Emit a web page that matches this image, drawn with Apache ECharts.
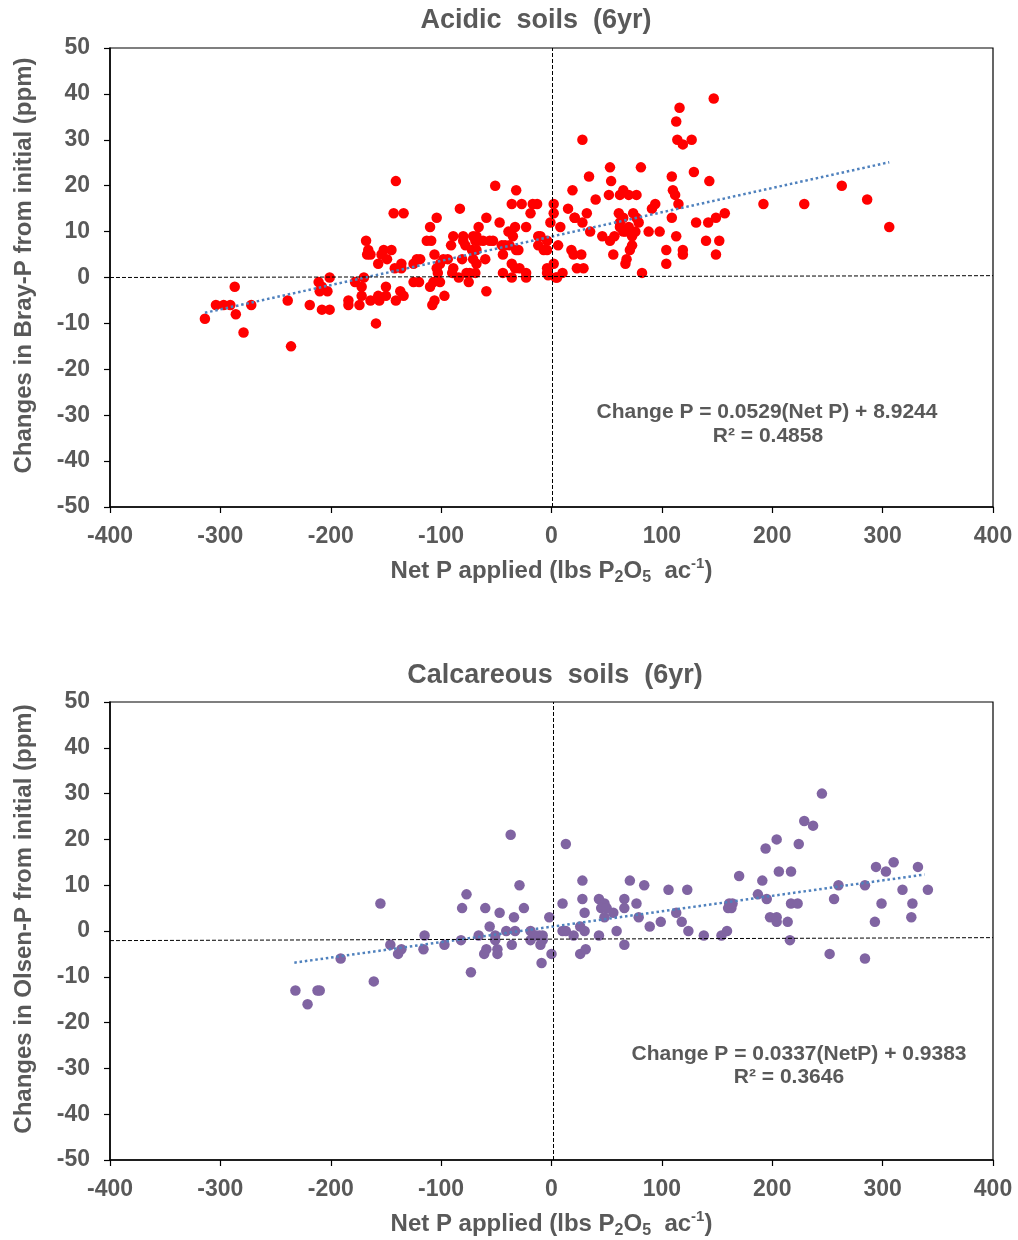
<!DOCTYPE html>
<html>
<head>
<meta charset="utf-8">
<title>Soil P change vs net P applied</title>
<script src="https://cdn.jsdelivr.net/npm/echarts@6/dist/echarts.min.js"></script>
<style>
  html, body { margin: 0; padding: 0; background: #fff; }
  #chart { width: 1018px; height: 1240px; }
</style>
</head>
<body>
<div id="chart"></div>
<script>
// Net P applied (lbs P2O5/ac) vs change in Bray-P (ppm), acidic soils
const acidicPoints = [
  [-314,-9],[-304,-6],[-297,-6],[-291,-6],[-287,-2],[-286,-8],[-279,-12],[-272,-6],[-239,-5],[-236,-15],
  [-219,-6],[-211,-1],[-208,-2],[-210,-3],[-203,-3],[-208,-7],[-201,-7],[-201,0],[-184,-5],[-184,-6],
  [-178,-1],[-174,-6],[-172,-2],[-172,-4],[-170,0],[-168,8],[-167,5],[-166,6],[-164,5],[-164,-5],
  [-156,-5],[-157,-4],[-150,-4],[-159,-10],[-157,3],[-154,5],[-152,6],[-145,6],[-149,4],[-150,-2],
  [-141,21],[-143,14],[-134,14],[-141,-5],[-142,2],[-136,3],[-136,2],[-137,-3],[-134,-4],[-125,-1],
  [-120,-1],[-125,3],[-122,4],[-119,4],[-113,8],[-109,8],[-110,11],[-104,13],[-106,5],[-110,-2],
  [-107,-1],[-108,-6],[-106,-5],[-101,-1],[-97,-4],[-104,2],[-101,3],[-98,4],[-103,1],
  [-94,4],[-89,2],[-90,1],[-89,9],[-91,7],[-83,15],[-84,0],[-75,-1],[-80,9],[-78,7],
  [-80,8],[-81,4],[-77,1],[-71,9],[-68,9],[-69,8],[-66,8],[-62,8],[-66,11],[-59,13],
  [-72,6],[-68,6],[-71,4],[-68,3],[-74,1],[-69,1],[-60,4],[-59,-3],[-56,8],[-53,8],
  [-51,20],[-47,12],[-45,7],[-42,7],[-44,5],[-44,1],[-39,10],[-35,9],[-33,11],[-38,7],
  [-32,6],[-30,6],[-36,3],[-33,2],[-29,2],[-36,0],[-23,1],[-23,0],[-36,16],[-27,16],
  [-32,19],[-23,11],[-19,14],[-17,16],[-13,16],[-12,9],[-12,7],[-7,6],[-4,6],[-4,2],
  [-3,0.5],[-1,12],[2,16],[2,14],[5,0],[8,11],[6,7],[10,1],[15,15],[19,19],
  [21,13],[18,6],[20,5],[23,2],[-10,9],[-4,8],[-4,1],[2,3],[4,0],[27,5],[29,2],
  [147,39],[116,37],[113,34],[114,30],[119,29],[127,30],[28,30],[53,24],[81,24],[34,22],
  [54,21],[109,22],[129,23],[143,21],[40,17],[52,18],[62,18],[65,19],[70,18],[77,18],
  [110,19],[112,18],[94,16],[91,15],[115,16],[192,16],[32,14],[21,13],[28,12],
  [61,14],[62,12],[65,13],[74,14],[77,13],[79,12],[62,11],[67,10],[71,10],[76,10],
  [73,9],[65,10],[70,11],[35,10],[46,9],[53,8],[57,9],[73,7],[71,6],[68,4],
  [67,3],[56,5],[88,10],[98,10],[109,13],[113,9],[131,12],[142,12],[149,13],[157,14],
  [140,8],[152,8],[149,5],[104,6],[104,3],[119,6],[119,5],[82,1],
  [229,16],[263,20],[286,17],[306,11]
];

// Net P applied (lbs P2O5/ac) vs change in Olsen-P (ppm), calcareous soils
const calcareousPoints = [
  [-232,-13],[-221,-16],[-212,-13],[-210,-13],[-191,-6],[-161,-11],[-155,6],[-146,-3],[-139,-5],[-136,-4],
  [-116,-4],[-115,-1],[-97,-3],[-82,-2],[-81,5],[-77,8],[-73,-9],[-66,-1],[-60,5],[-56,1],
  [-61,-5],[-59,-4],[-49,-5],[-49,-4],[-47,4],[-51,-1],[-51,-2],[-41,0],[-37,21],[-36,-3],
  [-34,3],[-33,0],[-29,10],[-25,5],[-19,0],[-19,-2],[-14,-1],[-11,-1],[-8,-1],[-10,-3],
  [-9,-7],[-8,-2],[-2,3],[0,-5],[10,6],[13,19],[10,0],[13,0],[20,-1],[26,-5],
  [31,-4],[26,1],[30,0],[28,7],[28,11],[30,4],[43,7],[48,6],[45,5],[50,5],
  [48,3],[56,4],[43,-1],[59,0],[66,7],[66,5],[66,-3],[71,11],[77,6],[79,3],
  [84,10],[89,1],[99,2],[106,9],[113,4],[118,2],[123,9],[124,0],[138,-1],[154,-1],
  [159,0],[160,5],[163,5],[161,6],[164,6],[170,12],[187,8],[191,11],[195,7],[194,18],
  [204,20],[206,13],[217,13],[198,3],[204,3],[204,2],[214,2],[216,-2],[217,6],[223,6],
  [224,19],[245,30],[229,24],[237,23],[260,10],[256,7],[252,-5],[284,10],[284,-6],[294,14],
  [303,13],[310,15],[293,2],[299,6],[318,9],[327,6],[326,3],[332,14],[341,9]
];

// Linear fits: [slope, intercept, xStart, xEnd]
const acidicFit = [0.0529, 8.9244, -314, 306];
const calcareousFit = [0.0337, 0.9383, -233, 338];

// Dashed reference lines: vertical x, horizontal y at left/right edges
const acidicRef = { x: 0.8, yLeft: 0.0, yRight: 0.4 };
const calcareousRef = { x: 1.2, yLeft: -2.1, yRight: -1.45 };

const xTicks = { min: -400, max: 400, interval: 100 };
const yTicks = { min: -50, max: 50, interval: 10 };

const FONT = '"Liberation Sans", Arial, sans-serif';
const GREY = '#595959';

function fitLine(f) {
  return [[f[2], f[0] * f[2] + f[1]], [f[3], f[0] * f[3] + f[1]]];
}

function refLines(r) {
  return {
    silent: true,
    symbol: 'none',
    label: { show: false },
    lineStyle: { color: '#000', type: [4, 2], width: 1 },
    data: [
      [{ coord: [r.x, yTicks.min] }, { coord: [r.x, yTicks.max] }],
      [{ coord: [xTicks.min, r.yLeft] }, { coord: [xTicks.max, r.yRight] }]
    ]
  };
}

const xName = '{a|Net P applied (lbs P}{s|2}{a|O}{s|5}{a|  ac}{p|-1}{a|)}';
const xNameStyle = {
  rich: {
    a: { fontSize: 24, fontWeight: 'bold', color: GREY, fontFamily: FONT, lineHeight: 30 },
    s: { fontSize: 16, fontWeight: 'bold', color: GREY, fontFamily: FONT, lineHeight: 16, verticalAlign: 'bottom' },
    p: { fontSize: 15, fontWeight: 'bold', color: GREY, fontFamily: FONT, lineHeight: 15, verticalAlign: 'top' }
  }
};

function makeX(gridIndex) {
  return {
    gridIndex, type: 'value', min: xTicks.min, max: xTicks.max, interval: xTicks.interval,
    name: xName, nameLocation: 'middle', nameGap: 49, nameTextStyle: xNameStyle,
    axisLine: { onZero: false, lineStyle: { color: '#000', width: 1.5 } },
    axisTick: { inside: false, length: 6, lineStyle: { color: '#000', width: 1.2 } },
    axisLabel: { color: GREY, fontSize: 23, fontWeight: 'bold', fontFamily: FONT, margin: 18 },
    splitLine: { show: false }
  };
}

function makeY(gridIndex, name) {
  return {
    gridIndex, type: 'value', min: yTicks.min, max: yTicks.max, interval: yTicks.interval,
    name, nameLocation: 'middle', nameGap: 74,
    // left padding nudges the rotated title upward along the axis
    nameTextStyle: { color: GREY, fontSize: 24, fontWeight: 'bold', fontFamily: FONT, padding: [0, 0, 0, 24] },
    axisLine: { onZero: false, lineStyle: { color: '#000', width: 1.5 } },
    axisTick: { inside: false, length: 6, lineStyle: { color: '#000', width: 1.2 } },
    axisLabel: { color: GREY, fontSize: 23, fontWeight: 'bold', fontFamily: FONT, margin: 20 },
    splitLine: { show: false }
  };
}

function label(text, x, y, size) {
  return {
    type: 'text', x, y, silent: true,
    style: {
      text, fill: GREY, font: 'bold ' + size + 'px ' + FONT,
      textAlign: 'center', textVerticalAlign: 'middle'
    }
  };
}

const chart = echarts.init(document.getElementById('chart'), null, { renderer: 'canvas' });
chart.setOption({
  animation: false,
  backgroundColor: '#fff',
  grid: [
    { left: 110, top: 48, width: 883, height: 459, show: true, borderColor: '#000', borderWidth: 1.2, backgroundColor: 'transparent' },
    { left: 110, top: 702, width: 883, height: 459, show: true, borderColor: '#000', borderWidth: 1.2, backgroundColor: 'transparent' }
  ],
  xAxis: [makeX(0), makeX(1)],
  yAxis: [
    makeY(0, 'Changes in Bray-P from initial (ppm)'),
    makeY(1, 'Changes in Olsen-P from initial (ppm)')
  ],
  graphic: [
    label('Acidic  soils  (6yr)', 536, 21, 27),
    label('Calcareous  soils  (6yr)', 555, 676, 27),
    label('Change P = 0.0529(Net P) + 8.9244', 767, 412, 21),
    label('R\u00B2 = 0.4858', 768, 436, 21),
    label('Change P = 0.0337(NetP) + 0.9383', 799, 1054, 21),
    label('R\u00B2 = 0.3646', 789, 1077, 21)
  ],
  series: [
    {
      type: 'scatter', xAxisIndex: 0, yAxisIndex: 0, data: acidicPoints,
      symbol: 'circle', symbolSize: 10.5, itemStyle: { color: '#FF0000', opacity: 1 },
      markLine: refLines(acidicRef), z: 3
    },
    {
      type: 'line', xAxisIndex: 0, yAxisIndex: 0, data: fitLine(acidicFit),
      symbol: 'none', lineStyle: { color: '#4F81BD', width: 2.5, type: [2.5, 2.8] }, z: 4
    },
    {
      type: 'scatter', xAxisIndex: 1, yAxisIndex: 1, data: calcareousPoints,
      symbol: 'circle', symbolSize: 10.5, itemStyle: { color: '#8064A2', opacity: 1 },
      markLine: refLines(calcareousRef), z: 3
    },
    {
      type: 'line', xAxisIndex: 1, yAxisIndex: 1, data: fitLine(calcareousFit),
      symbol: 'none', lineStyle: { color: '#4F81BD', width: 2.5, type: [2.5, 2.8] }, z: 4
    }
  ]
});
</script>
</body>
</html>
